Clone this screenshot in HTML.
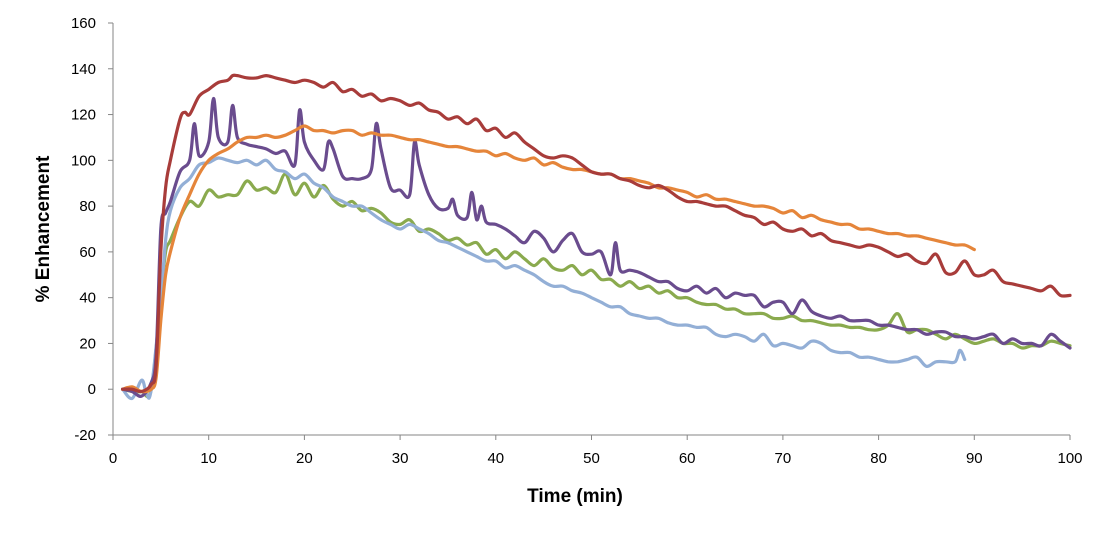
<!DOCTYPE html>
<html><head><meta charset="utf-8"><style>
html,body{margin:0;padding:0;background:#fff;}
svg{display:block;font-family:"Liberation Sans",Arial,sans-serif;}
</style></head><body>
<svg id="chart" width="1108" height="537">
<g id="axes"></g>
<g id="series"></g>
<text x="575" y="502" text-anchor="middle" font-size="19" font-weight="bold" fill="#000">Time (min)</text>
<text transform="translate(49,229) rotate(-90)" text-anchor="middle" font-size="19" font-weight="bold" fill="#000">% Enhancement</text>
</svg>
<script>
const xTicks=[0,10,20,30,40,50,60,70,80,90,100];
const yTicks=[-20,0,20,40,60,80,100,120,140,160];
const redX=[1,2,3,4,4.5,5,5.5,6,7,7.5,8,9,10,11,12,12.5,13,14,15,16,17,18,19,20,21,22,23,24,25,26,27,28,29,30,31,32,33,34,35,36,37,38,39,40,41,42,43,44,45,46,47,48,49,50,51,52,53,54,55,56,57,58,59,60,61,62,63,64,65,66,67,68,69,70,71,72,73,74,75,76,77,78,79,80,81,82,83,84,85,86,87,88,89,90,91,92,93,94,95,96,97,98,99,100];
const redY=[0,0,-1,2,10,60,88,100,118,121,120,128,131,134,135,137,137,136,136,137,136,135,134,135,134,132,134,130,131,128,129,126,127,126,124,125,122,121,118,119,116,118,113,114,110,112,108,105,102,101,102,101,98,95,94,94,92,91,89,88,89,87,84,82,82,81,80,80,78,76,75,72,73,70,69,70,67,68,65,64,63,62,63,62,60,58,59,56,55,59,51,51,56,50,50,52,47,46,45,44,43,45,41,41];
const orangeX=[1,2,3,4,4.5,5,5.5,6,7,8,9,10,11,12,13,14,15,16,17,18,19,20,21,22,23,24,25,26,27,28,29,30,31,32,33,34,35,36,37,38,39,40,41,42,43,44,45,46,47,48,49,50,51,52,53,54,55,56,57,58,59,60,61,62,63,64,65,66,67,68,69,70,71,72,73,74,75,76,77,78,79,80,81,82,83,84,85,86,87,88,89,90];
const orangeY=[0,1,-1,0,5,30,50,60,75,85,94,100,103,105,108,110,110,111,110,111,113,115,113,113,112,113,113,111,112,111,111,110,109,109,108,107,106,106,105,104,104,102,103,101,100,101,98,99,97,96,96,95,94,94,92,92,91,90,88,88,87,86,84,85,83,83,82,81,80,80,79,77,78,75,76,74,73,72,72,70,70,69,68,68,67,67,66,65,64,63,63,61];
const purpleX=[1,2,3,4,4.5,5,5.5,6,7,8,8.5,9,10,10.5,11,12,12.5,13,14,15,16,17,18,19,19.5,20,21,22,22.5,23,24,25,26,27,27.5,28,29,30,31,31.5,32,33,34,35,35.5,36,37,37.5,38,38.5,39,40,41,42,43,44,45,46,47,48,49,50,51,52,52.5,53,54,55,56,57,58,59,60,61,62,63,64,65,66,67,68,69,70,71,72,73,74,75,76,77,78,79,80,81,82,83,84,85,86,87,88,89,90,91,92,93,94,95,96,97,98,99,100];
const purpleY=[0,-1,-3,3,15,70,77,82,95,100,116,102,108,127,110,108,124,110,107,106,105,103,104,98,122,108,100,96,108,105,93,92,92,96,116,105,88,87,85,108,98,85,79,79,83,76,75,86,74,80,73,72,70,67,64,69,66,60,65,68,60,59,60,50,64,52,52,51,49,47,47,44,43,45,42,44,40,42,41,41,36,38,38,33,39,34,32,31,32,30,30,30,28,28,27,26,26,24,25,25,23,23,22,23,24,20,22,20,20,19,24,21,18];
const greenX=[1,2,3,4,5,5.5,6,7,8,9,10,11,12,13,14,15,16,17,18,19,20,21,22,23,24,25,26,27,28,29,30,31,32,33,34,35,36,37,38,39,40,41,42,43,44,45,46,47,48,49,50,51,52,53,54,55,56,57,58,59,60,61,62,63,64,65,66,67,68,69,70,71,72,73,74,75,76,77,78,79,80,81,82,83,84,85,86,87,88,89,90,91,92,93,94,95,96,97,98,99,100];
const greenY=[0,-1,-1,0,40,60,65,75,82,80,87,84,85,85,91,87,88,86,94,85,90,84,89,83,80,82,78,79,77,73,72,74,69,70,68,65,66,63,64,59,61,57,60,57,54,57,53,52,54,50,52,48,48,45,47,44,45,42,43,40,40,38,37,37,35,35,33,33,33,31,31,32,30,30,29,28,28,27,27,26,26,28,33,25,26,26,24,22,24,22,20,21,22,20,20,18,19,19,21,20,19];
const blueX=[1,2,3,3.5,4,5,5.5,6,7,8,9,10,11,12,13,14,15,16,17,18,19,20,21,22,23,24,25,26,27,28,29,30,31,32,33,34,35,36,37,38,39,40,41,42,43,44,45,46,47,48,49,50,51,52,53,54,55,56,57,58,59,60,61,62,63,64,65,66,67,68,69,70,71,72,73,74,75,76,77,78,79,80,81,82,83,84,85,86,87,88,88.5,89];
const blueY=[0,-4,4,-2,0,40,65,78,88,92,98,99,101,100,99,100,98,100,96,95,92,94,90,88,84,82,80,80,77,74,72,70,72,70,68,65,64,62,60,58,56,56,53,54,52,50,47,45,45,43,42,40,38,36,36,33,32,31,31,29,28,28,27,27,24,23,24,23,21,24,19,20,19,18,21,20,17,16,16,14,14,13,12,12,13,14,10,12,12,12,17,13];

const NS="http://www.w3.org/2000/svg";
const X0=113,X1=1070,Y0=435,Y1=23;
function sx(v){return X0+(v-0)/100*(X1-X0);}
function sy(v){return Y0-(v+20)/180*(Y0-Y1);}
const axes=document.getElementById('axes');
function mk(tag,attrs,parent){const e=document.createElementNS(NS,tag);for(const k in attrs)e.setAttribute(k,attrs[k]);parent.appendChild(e);return e;}
const yl=mk('line',{x1:X0,x2:X0,y1:Y1,y2:Y0,stroke:'#868686','stroke-width':1},axes);


const xl=mk('line',{x1:X0,x2:X1,y1:Y0,y2:Y0,stroke:'#868686','stroke-width':1},axes);


yTicks.forEach(t=>{
  const tk=mk('line',{x1:X0-5,x2:X0,y1:sy(t),y2:sy(t),stroke:'#868686'},axes);
  
  
  const tx=mk('text',{x:X0-17,y:sy(t)+5,'text-anchor':'end','font-size':15,fill:'#000'},axes);
  tx.textContent=t;
  
  
});
xTicks.forEach(t=>{
  const tk=mk('line',{x1:sx(t),x2:sx(t),y1:Y0,y2:Y0+5,stroke:'#868686'},axes);
  
  
  const tx=mk('text',{x:sx(t),y:Y0+28,'text-anchor':'middle','font-size':15,fill:'#000'},axes);
  tx.textContent=t;
  
  
});
const sg=document.getElementById('series');
function path(xs,ys){
  const p=xs.map((x,i)=>[sx(x),sy(ys[i])]);
  let d='M'+p[0][0].toFixed(1)+','+p[0][1].toFixed(1);
  for(let i=0;i<p.length-1;i++){
    const a=p[i-1]||p[i],b=p[i],c=p[i+1],e=p[i+2]||c;
    const c1=[b[0]+(c[0]-a[0])/6,b[1]+(c[1]-a[1])/6],c2=[c[0]-(e[0]-b[0])/6,c[1]-(e[1]-b[1])/6];
    d+=' C'+c1[0].toFixed(1)+','+c1[1].toFixed(1)+' '+c2[0].toFixed(1)+','+c2[1].toFixed(1)+' '+c[0].toFixed(1)+','+c[1].toFixed(1);
  }
  return d;
}
const defs=[[greenX,greenY,'#8AAA4E','series-green'],[blueX,blueY,'#93AFD6','series-light-blue'],[purpleX,purpleY,'#6A4C8E','series-purple'],[orangeX,orangeY,'#E5853A','series-orange'],[redX,redY,'#A83C3A','series-red']];
defs.forEach(s=>{
  const el=mk('path',{d:path(s[0],s[1]),fill:'none',stroke:s[2],'stroke-width':3.2,'stroke-linejoin':'round','stroke-linecap':'round'},sg);
  
  
});
</script>
</body></html>
